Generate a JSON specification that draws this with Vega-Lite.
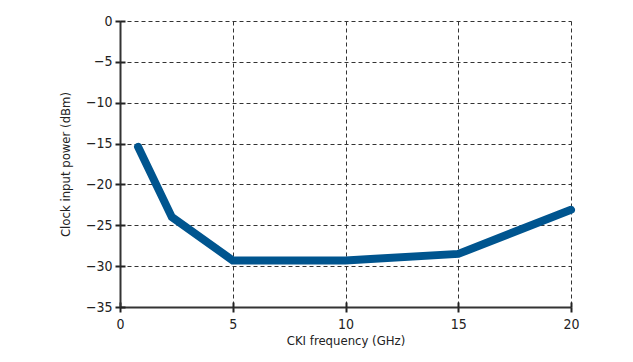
{
  "$schema": "https://vega.github.io/schema/vega-lite/v6.json",
  "width": 451,
  "height": 286,
  "autosize": "none",
  "padding": {"left": 120, "top": 21, "right": 62, "bottom": 55},
  "background": "white",
  "config": {
    "view": {"stroke": null},
    "font": "'DejaVu Sans Condensed', 'Liberation Sans', sans-serif",
    "axis": {
      "labelFont": "'DejaVu Sans Condensed', 'Liberation Sans', sans-serif",
      "titleFont": "'DejaVu Sans Condensed', 'Liberation Sans', sans-serif",
      "labelFontSize": 14,
      "titleFontSize": 13,
      "titleFontWeight": "normal",
      "labelColor": "#222",
      "titleColor": "#222",
      "labelFlush": false,
      "domainColor": "#333",
      "domainWidth": 2,
      "tickColor": "#222",
      "tickWidth": 2,
      "tickSize": 5,
      "gridColor": "#333",
      "gridDash": [4, 3],
      "gridWidth": 1,
      "gridOpacity": 1
    }
  },
  "data": {
    "values": [
      {"f": 0.8, "p": -15.4},
      {"f": 2.3, "p": -24.0},
      {"f": 5, "p": -29.3},
      {"f": 10, "p": -29.3},
      {"f": 15, "p": -28.5},
      {"f": 20, "p": -23.1}
    ]
  },
  "layer": [
    {
      "mark": {"type": "line", "color": "#00558f", "strokeWidth": 8, "strokeCap": "round", "strokeJoin": "miter"},
      "encoding": {
        "x": {"field": "f", "type": "quantitative", "scale": {"domain": [0, 20], "nice": false},
          "axis": {"values": [0, 5, 10, 15, 20], "title": "CKI frequency (GHz)", "labelPadding": 5, "titlePadding": 3, "orient": "bottom"}},
        "y": {"field": "p", "type": "quantitative", "scale": {"domain": [-35, 0], "nice": false},
          "axis": {"values": [0, -5, -10, -15, -20, -25, -30, -35], "title": "Clock input power (dBm)", "labelPadding": 3, "titlePadding": 13, "orient": "left"}}
      }
    },
    {
      "mark": {"type": "line", "opacity": 0},
      "encoding": {
        "x": {"field": "f", "type": "quantitative", "scale": {"domain": [0, 20], "nice": false},
          "axis": {"values": [0, 5, 10, 15, 20], "orient": "bottom", "tickSize": -5, "labels": false, "domain": false, "grid": false, "title": null}},
        "y": {"field": "p", "type": "quantitative", "scale": {"domain": [-35, 0], "nice": false},
          "axis": {"values": [0, -5, -10, -15, -20, -25, -30, -35], "orient": "left", "tickSize": -5, "labels": false, "domain": false, "grid": false, "title": null}}
      }
    }
  ],
  "resolve": {"axis": {"x": "independent", "y": "independent"}}
}
